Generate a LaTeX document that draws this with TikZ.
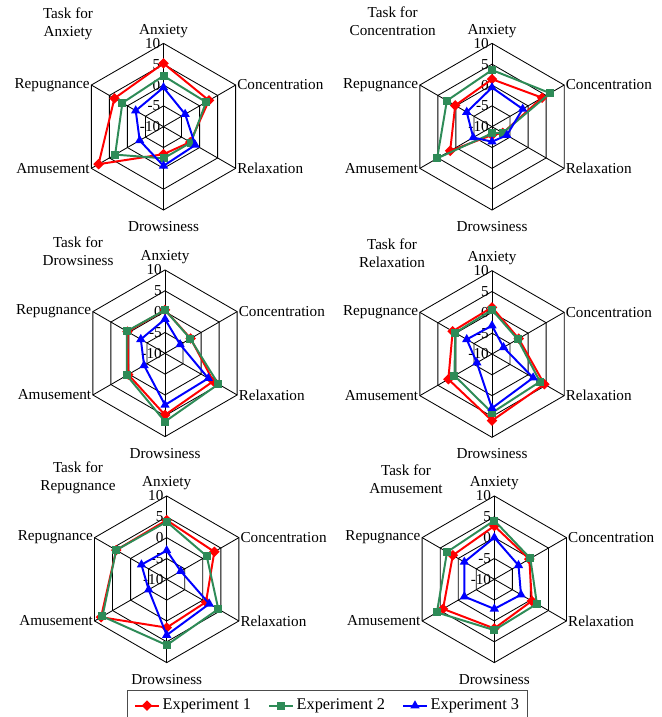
\documentclass[tikz,border=0pt]{standalone}
\usepackage{fontspec}
\setmainfont{Liberation Serif}
\usepackage{xcolor}
\usepackage{tikz}
\usetikzlibrary{positioning,shapes.geometric}

\definecolor{expgreen}{RGB}{46,139,87}

\begin{document}
\begin{tikzpicture}[
        x=0.025cm, y=0.025cm,
        txt/.style={font=\fontsize{10.8}{12.8}\selectfont},
        grid/.style={draw=black, line width=0.6pt},
        axis/.style={txt, inner sep=1pt},
        tick/.style={txt, inner sep=0pt, anchor=east},
        ttl/.style={txt, align=center},
        exp1/.style={red, line width=1.4pt},
        exp2/.style={expgreen, line width=1.4pt},
        exp3/.style={blue, line width=1.4pt},
        mk1/.style={diamond, fill=red, inner sep=0pt, minimum size=0.27cm},
        mk2/.style={rectangle, fill=expgreen, inner sep=0pt, minimum size=0.2cm},
        mk3/.style={regular polygon, regular polygon sides=3, fill=blue, inner sep=0pt, minimum size=0.27cm},
    ]
        \useasboundingbox (0,0) rectangle (662,717);

        % one radar chart per task: centre, title, experiment 1/2/3
        \foreach \n/\cx/\cy/\tx/\ty/\ttl/\da/\db/\dc in {
            1/163.5/590.3/68/693/{Task for\\Anxiety}/{5.2,2.6,-2.6,-3.4,8.0,3.6}/{2.2,1.8,-2.4,-2.4,3.4,1.4}/{-0.6,-4.0,-1.2,-0.6,-3.4,-2.3},
            2/492/590.3/392.7/695.5/{Task for\\Concentration}/{1.4,3.9,-7.0,-8.0,1.6,0.2}/{3.6,6.1,-7.0,-8.4,5.2,2.5}/{-0.6,-1.5,-5.9,-6.4,-4.8,-3.0},
            3/165/363.7/78/465.5/{Task for\\Drowsiness}/{0.4,-2.9,3.4,4.8,0.2,0.4}/{0.4,-3.0,4.8,6.4,0.6,0.6}/{-1.8,-5.8,2.0,2.4,-4.2,-3.3},
            4/492/363/392/464/{Task for\\Relaxation}/{1.2,-2.6,4.5,6.0,2.1,0.9}/{0.6,-2.9,3.3,4.1,0.4,0.2}/{-3.2,-6.8,1.4,3.0,-5.8,-3.0},
            5/166.7/137.7/78/239/{Task for\\Repugnance}/{4.2,3.2,0.9,1.6,8.2,4.0}/{3.8,1.1,4.3,5.8,7.8,4.0}/{-3.1,-6.1,1.8,3.4,-5.0,-3.0},
            6/494.3/137.7/406/237.5/{Task for\\Amusement}/{2.8,-0.3,0.4,1.8,4.2,1.5}/{4.1,0.0,1.8,2.2,5.9,3.1}/{0.0,-3.3,-2.6,-2.9,-1.7,-1.7}} {
            \node[ttl] (title\n) at (\tx,\ty) {\ttl};
            \begin{scope}[shift={(\cx,\cy)}]
                % rings and spokes
                \foreach \r in {1,...,4}
                    \draw[grid] (90:{\r*20.833}) \foreach \a in {30,-30,-90,-150,150} {-- (\a:{\r*20.833})} -- cycle;
                \coordinate (c\n) at (0,0);
                \foreach \a in {90,30,-30,-90,-150,150}
                    \draw[grid] (c\n) -- (\a:83.33);
                % axis names
                \node[axis, anchor=south, inner sep=0pt, yshift=4] (anx\n) at (90:83.33) {Anxiety};
                \node[axis, anchor=west] (con\n) at (30:83.33) {Concentration};
                \node[axis, anchor=west] (rel\n) at (-30:83.33) {Relaxation};
                \node[axis, anchor=north, yshift=-7] (dro\n) at (-90:83.33) {Drowsiness};
                \node[axis, anchor=east] (amu\n) at (-150:83.33) {Amusement};
                \node[axis, anchor=east] (rep\n) at (150:83.33) {Repugnance};
                % scale
                \foreach \v [count=\k from 0] in {-10,-5,0,5,10}
                    \node[tick] (tk\n-\k) at (-3,{\k*20.833}) {\v};
                % data, value -10 at the centre
                \foreach \v [count=\i] in \da
                    \coordinate (a\n-\i) at ({150-\i*60}:{(\v+10)*4.1667});
                \foreach \v [count=\i] in \db
                    \coordinate (b\n-\i) at ({150-\i*60}:{(\v+10)*4.1667});
                \foreach \v [count=\i] in \dc
                    \coordinate (d\n-\i) at ({150-\i*60}:{(\v+10)*4.1667});
                \draw[exp1] (a\n-1) -- (a\n-2) -- (a\n-3) -- (a\n-4) -- (a\n-5) -- (a\n-6) -- cycle;
                \foreach \i in {1,...,6} \node[mk1] (ma\n-\i) at (a\n-\i) {};
                \draw[exp2] (b\n-1) -- (b\n-2) -- (b\n-3) -- (b\n-4) -- (b\n-5) -- (b\n-6) -- cycle;
                \foreach \i in {1,...,6} \node[mk2] (mb\n-\i) at (b\n-\i) {};
                \draw[exp3] (d\n-1) -- (d\n-2) -- (d\n-3) -- (d\n-4) -- (d\n-5) -- (d\n-6) -- cycle;
                \foreach \i in {1,...,6} \node[mk3] (md\n-\i) at (d\n-\i) {};
            \end{scope}
        }

        % legend
        \draw[black!70, line width=0.6pt] (127,-2) rectangle (527,26.3);
        \foreach \e/\x/\lab in {1/135/Experiment 1, 2/269/Experiment 2, 3/403/Experiment 3} {
            \coordinate (la\e) at (\x,11.3);
            \coordinate (lb\e) at (\x+24,11.3);
            \draw[exp\e] (la\e) -- (lb\e);
            \node[mk\e] (lm\e) at (\x+12,11.3) {};
            \node[txt, anchor=west, inner sep=1pt, font=\fontsize{11.6}{13}\selectfont] (lt\e) at (\x+26,11.3) {\lab};
        }
    \end{tikzpicture}
\end{document}
